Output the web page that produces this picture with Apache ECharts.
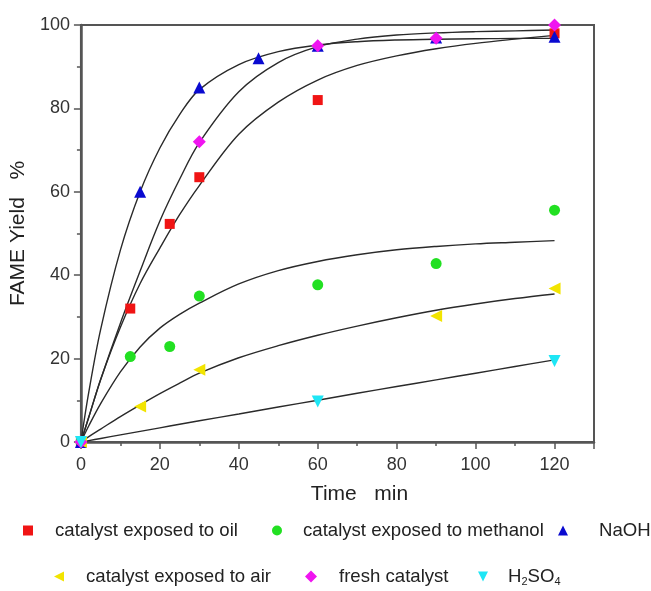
<!DOCTYPE html>
<html>
<head>
<meta charset="utf-8">
<script src="https://cdn.jsdelivr.net/npm/echarts@6/dist/echarts.min.js"></script>
<style>html,body{margin:0;padding:0;background:#fff}#c{width:651px;height:591px}</style>
</head>
<body>
<div id="c"></div>
<script>
// ---- data ----
const seriesNames = ['catalyst exposed to oil', 'catalyst exposed to methanol', 'NaOH', 'catalyst exposed to air', 'fresh catalyst', 'H2SO4'];

const oilTime = [0, 12.5, 22.5, 30, 60, 120];
const oilYield = [0, 32, 52.3, 63.5, 82, 98];
const methanolTime = [0, 12.5, 22.5, 30, 60, 90, 120];
const methanolYield = [0, 20.5, 22.9, 35, 37.7, 42.8, 55.6];
const naohTime = [0, 15, 30, 45, 60, 90, 120];
const naohYield = [0, 60, 85, 92, 95, 97, 97.2];
const airTime = [0, 15, 30, 90, 120];
const airYield = [0, 8.5, 17.3, 30.2, 36.8];
const freshTime = [0, 30, 60, 90, 120];
const freshYield = [0, 72, 95, 96.8, 100];
const h2so4Time = [0, 60, 120];
const h2so4Yield = [0, 9.7, 19.4];

// fitted curves
const fitTime = [0, 2, 5, 10, 15, 20, 25, 30, 40, 50, 60, 70, 80, 90, 100, 110, 120];
const fitOil = [0, 6, 15, 27.5, 38, 46.5, 54.5, 61.5, 73.8, 81.5, 86.8, 90.3, 92.6, 94.3, 95.6, 96.6, 97.5];
const fitMethanol = [0, 3.9, 9.2, 16.8, 22.8, 27.3, 30.6, 33.3, 37.9, 41.1, 43.3, 44.9, 46.1, 46.9, 47.5, 47.9, 48.3];
const fitNaoh = [0, 12, 27, 46, 60, 70.5, 78.5, 84.5, 90.5, 93.6, 95.2, 96.0, 96.4, 96.6, 96.7, 96.8, 96.8];
const fitAir = [0, 1.3, 3.1, 6.1, 8.9, 11.6, 14.1, 16.5, 20.2, 23.1, 25.6, 27.8, 29.8, 31.6, 33.1, 34.4, 35.5];
const fitFresh = [0, 6, 15, 28.5, 41, 53, 63, 71.8, 84, 91, 94.8, 96.6, 97.6, 98.1, 98.4, 98.6, 98.8];
const fitH2so4 = [0, 0.34, 0.85, 1.7, 2.55, 3.4, 4.25, 5.1, 6.7, 8.4, 10, 11.7, 13.3, 14.9, 16.5, 18.1, 19.7];

const xTicks = [0, 20, 40, 60, 80, 100, 120];
const yTicks = [0, 20, 40, 60, 80, 100];

// ---- styling ----
const FONT = "'Liberation Sans', Arial, sans-serif";
const colors = ['#f01414', '#22e022', '#0a0ad0', '#f2e400', '#f014f0', '#1ee6f5'];
const symbols = ['rect', 'circle', 'triangle', 'triangle', 'diamond', 'triangle'];
const rotates = [0, 0, 0, 90, 0, 180];
const sizes = [10, 11, 12, 12, 13, 12];
const legendIcons = ['rect', 'circle', 'triangle', 'path://M0,5L10,0L10,10Z', 'diamond', 'path://M0,0L10,0L5,10Z'];

const zip = (a, b) => a.map((v, i) => [v, b[i]]);
const pts = [zip(oilTime, oilYield), zip(methanolTime, methanolYield), zip(naohTime, naohYield),
             zip(airTime, airYield), zip(freshTime, freshYield), zip(h2so4Time, h2so4Yield)];
const fits = [fitOil, fitMethanol, fitNaoh, fitAir, fitFresh, fitH2so4];

const series = [];
fits.forEach((f, i) => {
  series.push({
    name: 'fit' + i, type: 'line', data: zip(fitTime, f), showSymbol: false, symbol: 'none',
    smooth: 0.35, lineStyle: { color: '#2a2a2a', width: 1.4 }, z: 2, silent: true
  });
});
pts.forEach((p, i) => {
  series.push({
    name: seriesNames[i], type: 'scatter', data: p, symbol: symbols[i], symbolRotate: rotates[i],
    symbolSize: sizes[i], itemStyle: { color: colors[i], opacity: 1 }, z: 5 + i, clip: false
  });
});

const legendPos = [
  { left: 23, top: 521 }, { left: 272, top: 521 }, { left: 558, top: 521 },
  { left: 54, top: 567 }, { left: 305, top: 567 }, { left: 478, top: 567 }
];
const legendPad = [17, 16, 26, 17, 17, 15];
const legends = seriesNames.map((n, i) => ({
  data: [{ name: n, icon: legendIcons[i] }], left: legendPos[i].left, top: legendPos[i].top, padding: 0,
  itemWidth: i === 4 ? 12 : 10, itemHeight: i === 4 ? 12 : 10,
  formatter: (name) => name === 'H2SO4' ? 'H{s|2}SO{s|4}' : name,
  textStyle: {
    fontFamily: FONT, fontSize: 18.6, color: '#222', padding: [0, 0, 0, legendPad[i]],
    rich: { s: { fontFamily: FONT, fontSize: 11, color: '#222', verticalAlign: 'bottom', padding: [10, 0, 0, 0] } }
  }
}));

const chart = echarts.init(document.getElementById('c'), null, { renderer: 'canvas' });
chart.setOption({
  animation: false,
  backgroundColor: '#fff',
  grid: { left: 79, right: 57, top: 25, bottom: 149, show: true, borderColor: '#555', borderWidth: 2 },
  legend: legends,
  xAxis: {
    type: 'value', min: 0, max: 130, interval: 20,
    name: 'Time   min', nameLocation: 'middle', nameGap: 42,
    nameTextStyle: { fontFamily: FONT, fontSize: 21, color: '#222', padding: [0, 0, 0, 44] },
    axisLine: { show: true, lineStyle: { color: '#555', width: 2.5 } },
    axisTick: { show: true, length: 7, lineStyle: { color: '#555', width: 1.5 } },
    minorTick: { show: true, splitNumber: 2, length: 4, lineStyle: { color: '#555', width: 1.5 } },
    axisLabel: { fontFamily: FONT, fontSize: 18, color: '#333', margin: 14, showMaxLabel: false,
      formatter: (v) => xTicks.includes(v) ? String(v) : '' },
    splitLine: { show: false }
  },
  yAxis: {
    type: 'value', min: 0, max: 100, interval: 20,
    name: 'FAME Yield   %', nameLocation: 'middle', nameGap: 46, nameRotate: 90,
    nameTextStyle: { fontFamily: FONT, fontSize: 21, color: '#222' },
    axisLine: { show: true, lineStyle: { color: '#555', width: 2.5 } },
    axisTick: { show: true, length: 7, lineStyle: { color: '#555', width: 1.5 } },
    minorTick: { show: true, splitNumber: 2, length: 4, lineStyle: { color: '#555', width: 1.5 } },
    axisLabel: { fontFamily: FONT, fontSize: 18, color: '#333', margin: 11,
      formatter: (v) => yTicks.includes(v) ? String(v) : '' },
    splitLine: { show: false }
  },
  series: series
});
</script>
</body>
</html>
